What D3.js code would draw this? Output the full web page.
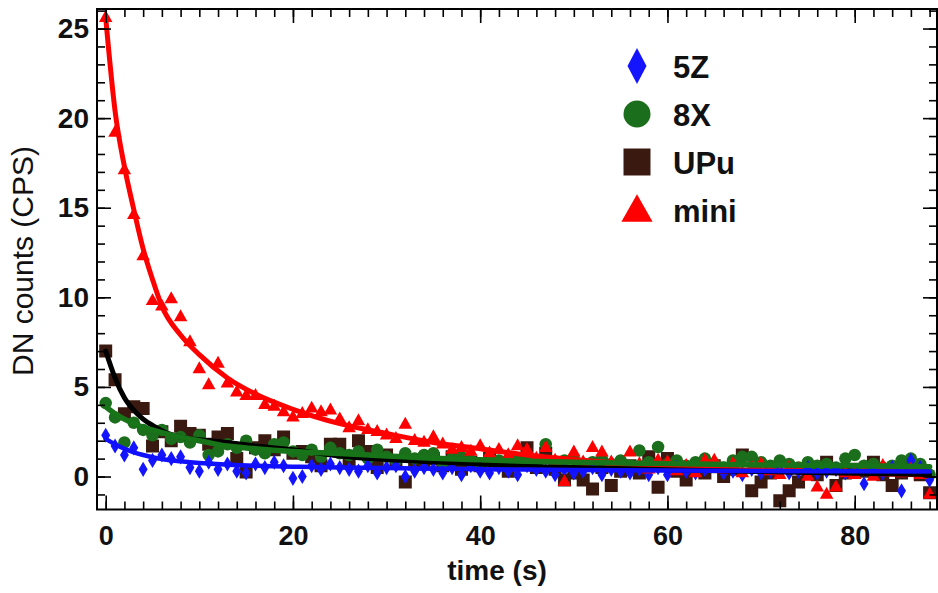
<!DOCTYPE html>
<html><head><meta charset="utf-8">
<script src="https://cdn.jsdelivr.net/npm/d3@7"></script>
<style>html,body{margin:0;padding:0;background:#fff;}svg{display:block;}</style>
</head><body>
<svg id="chart" width="938" height="593"></svg>
<script>
// ---- data ----
const times = d3.range(0, 89); // sample times (s), one count every second
const series5Z = [2.3,1.7,1.2,1.6,0.4,0.9,1.2,1.0,1.1,0.5,0.3,0.8,0.4,0.7,0.3,0.2,0.7,0.5,0.8,0.6,-0.1,0.0,0.6,0.4,0.7,0.5,0.4,0.3,0.6,0.2,0.5,0.6,0.0,0.3,0.5,0.4,0.2,0.5,0.1,0.6,0.3,0.2,0.5,0.3,0.1,0.6,0.4,0.3,0.1,0.4,0.2,0.3,0.5,0.1,0.4,0.3,0.2,0.4,0.1,0.5,0.1,0.5,0.3,0.2,0.4,0.6,0.2,0.3,0.1,0.4,0.2,0.3,0.4,0.2,0.3,0.5,0.2,0.3,0.4,0.2,0.3,-0.4,0.3,0.2,0.5,-0.8,0.9,0.5,-0.2];
const series8X = [4.1,3.3,1.9,3.0,2.6,2.3,2.6,2.1,2.2,1.9,2.3,1.2,1.4,1.8,1.6,2.0,1.5,1.3,1.8,1.9,1.4,1.2,1.5,1.1,1.6,1.3,1.2,1.4,1.0,1.5,1.1,0.9,1.3,1.0,1.2,1.3,0.8,1.0,1.1,0.9,0.7,1.0,0.9,0.6,1.0,0.9,0.7,1.8,0.8,0.9,1.0,0.6,0.8,1.0,0.7,0.9,0.6,1.45,0.8,1.65,0.7,0.9,0.6,0.8,1.0,0.7,0.5,0.9,1.1,1.1,0.8,0.6,0.9,0.7,0.5,0.8,0.6,0.7,0.5,1.0,1.2,0.6,0.7,0.5,0.6,0.9,1.0,0.7,0.1];
const seriesUPu = [7.0,5.4,3.5,3.9,3.8,1.7,2.5,2.0,2.8,2.4,2.3,1.8,2.2,2.4,1.0,0.25,1.6,2.0,1.5,2.2,1.3,1.4,1.1,0.6,1.8,1.8,0.9,2.0,1.4,0.5,1.2,0.8,-0.3,0.7,0.9,1.0,0.6,1.1,0.4,0.8,0.6,1.0,0.7,0.3,0.9,1.6,0.5,1.3,0.4,-0.2,0.2,-0.2,-0.7,0.5,-0.5,0.3,0.6,0.2,1.1,-0.6,1.0,0.3,-0.2,0.5,0.2,0.6,0.0,0.4,1.2,-0.8,-0.3,0.2,-1.35,-0.8,-0.3,0.3,0.1,0.8,-0.5,0.2,0.4,0.3,0.8,0.1,-0.5,0.2,0.4,0.1,-0.9];
const seriesMini = [25.7,19.3,17.2,14.7,12.4,9.9,9.6,10.0,9.0,7.6,6.1,5.2,6.4,5.3,4.8,4.6,4.6,4.1,4.0,3.7,3.4,3.6,3.9,3.7,3.8,3.3,2.8,3.2,2.7,2.6,2.4,2.2,3.0,2.1,2.0,2.3,1.9,1.6,1.7,1.5,1.8,1.4,1.6,1.3,1.8,1.6,1.1,1.7,1.0,-0.2,1.45,0.9,1.7,1.45,0.9,0.6,1.45,0.8,0.5,1.0,0.9,0.4,0.7,0.3,1.0,1.0,0.5,0.8,0.3,0.6,0.8,0.4,0.2,0.6,0.5,0.1,-0.5,-0.9,-0.5,0.3,0.2,0.4,0.1,0.7,0.4,0.3,0.5,0.2,-0.9];
// fitted decay curves, read at these times
const fitTimes = [0,1,2,3,4,5,6,8,10,13,16,20,25,30,35,40,45,50,60,70,80,88];
const fit5Z  = [2.1,1.8,1.55,1.35,1.2,1.08,0.98,0.85,0.75,0.66,0.6,0.55,0.5,0.47,0.44,0.41,0.39,0.37,0.34,0.31,0.29,0.28];
const fit8X  = [3.9,3.5,3.2,2.95,2.75,2.6,2.45,2.2,2.0,1.7,1.55,1.4,1.28,1.15,1.02,0.93,0.85,0.8,0.72,0.65,0.6,0.55];
const fitUPu = [7.0,5.5,4.4,3.7,3.2,2.85,2.55,2.2,2.05,1.9,1.7,1.5,1.15,0.95,0.82,0.7,0.58,0.5,0.38,0.28,0.18,0.12];
const fitMini= [25.6,20.4,17.3,14.9,12.7,11.0,9.5,7.9,6.8,5.5,4.6,3.75,2.95,2.4,1.9,1.55,1.2,0.95,0.55,0.33,0.18,0.08];
const seriesNames = ["5Z","8X","UPu","mini"];
const xMajorTicks = [0,20,40,60,80];
const yMajorTicks = [0,5,10,15,20,25];

// ---- layout ----
const svg = d3.select("#chart");
const L = 97, R = 937, T = 9, B = 509.5;
const x = d3.scaleLinear().domain([-0.929, 88.79]).range([L, R]);
const y = d3.scaleLinear().domain([-1.84, 26.09]).range([B, T]);

const styles = {
  "5Z":  {color:"#1414ff", line:"#1010ff", lw:4.5, shape:"diamond"},
  "8X":  {color:"#1b6e1b", line:"#187418", lw:5.5, shape:"circle"},
  "UPu": {color:"#3a1a10", line:"#000000", lw:5,   shape:"square"},
  "mini":{color:"#ff0000", line:"#ff0000", lw:5,   shape:"triangle"}
};
const dataBy = {"5Z":series5Z,"8X":series8X,"UPu":seriesUPu,"mini":seriesMini};
const fitBy  = {"5Z":fit5Z,"8X":fit8X,"UPu":fitUPu,"mini":fitMini};

function markerPath(shape, s) {
  if (shape === "diamond") { const w=s*0.32, h=s*0.54; return `M0,${-h}L${w},0L0,${h}L${-w},0Z`; }
  if (shape === "square") { const h=s*0.5; return `M${-h},${-h}H${h}V${h}H${-h}Z`; }
  if (shape === "triangle") { const w=s*0.52, h=s*0.46; return `M0,${-h}L${w},${h}L${-w},${h}Z`; }
  const r = s*0.5;
  return `M${r},0A${r},${r} 0 1,1 ${-r},0A${r},${r} 0 1,1 ${r},0Z`;
}

svg.append("defs").append("clipPath").attr("id","plotclip")
  .append("rect").attr("x",L).attr("y",T).attr("width",R-L).attr("height",B-T);

const plot = svg.append("g").attr("clip-path","url(#plotclip)");

// markers
["UPu","8X","5Z","mini"].forEach(name => {
  const st = styles[name];
  const size = {diamond:14, square:13, triangle:13, circle:12.5}[st.shape];
  plot.append("g").selectAll("path").data(dataBy[name].map((v,i)=>[times[i],v]))
    .join("path")
    .attr("transform", d => `translate(${x(d[0])},${y(d[1])})`)
    .attr("d", markerPath(st.shape, size))
    .attr("fill", st.color);
});

// fitted curves
const line = d3.line().x(d=>x(d[0])).y(d=>y(d[1])).curve(d3.curveMonotoneX);
["mini","UPu","8X","5Z"].forEach(name => {
  const st = styles[name];
  plot.append("path").datum(fitBy[name].map((v,i)=>[fitTimes[i],v]))
    .attr("d", line).attr("fill","none").attr("stroke", st.line)
    .attr("stroke-width", st.lw).attr("stroke-linejoin","round").attr("stroke-linecap","round");
});

// axes (ticks inward)
const font = "'Liberation Sans', Arial, Helvetica, sans-serif";
const xMinor = d3.range(0, 89, 2);
const yMinor = d3.range(-1, 27, 1);
function styleAxis(g){ g.select(".domain").remove(); g.selectAll("line").attr("stroke","#000").attr("stroke-width",1.6); }

svg.append("g").attr("transform",`translate(0,${B})`)
  .call(d3.axisBottom(x).tickValues(xMinor).tickSize(-8).tickFormat("")).call(styleAxis);
svg.append("g").attr("transform",`translate(0,${B})`)
  .call(d3.axisBottom(x).tickValues(xMajorTicks).tickSize(-14).tickPadding(16).tickFormat(d3.format("d")))
  .call(styleAxis)
  .call(g=>g.selectAll("text").attr("font-family",font).attr("font-size",27).attr("font-weight","bold").attr("fill","#111"));
svg.append("g").attr("transform",`translate(0,${T})`)
  .call(d3.axisTop(x).tickValues(xMinor).tickSize(-8).tickFormat("")).call(styleAxis);
svg.append("g").attr("transform",`translate(0,${T})`)
  .call(d3.axisTop(x).tickValues(xMajorTicks).tickSize(-14).tickFormat("")).call(styleAxis);

svg.append("g").attr("transform",`translate(${L},0)`)
  .call(d3.axisLeft(y).tickValues(yMinor).tickSize(-8).tickFormat("")).call(styleAxis);
svg.append("g").attr("transform",`translate(${L},0)`)
  .call(d3.axisLeft(y).tickValues(yMajorTicks).tickSize(-14).tickPadding(8).tickFormat(d3.format("d")))
  .call(styleAxis)
  .call(g=>g.selectAll("text").attr("font-family",font).attr("font-size",28).attr("font-weight","bold").attr("fill","#111"));
svg.append("g").attr("transform",`translate(${R},0)`)
  .call(d3.axisRight(y).tickValues(yMinor).tickSize(-8).tickFormat("")).call(styleAxis);
svg.append("g").attr("transform",`translate(${R},0)`)
  .call(d3.axisRight(y).tickValues(yMajorTicks).tickSize(-14).tickFormat("")).call(styleAxis);

// frame
svg.append("rect").attr("x",L).attr("y",T).attr("width",R-L).attr("height",B-T)
  .attr("fill","none").attr("stroke","#000").attr("stroke-width",2);

// axis titles
svg.append("text").attr("x",(L+R)/2 - 20).attr("y",580).attr("text-anchor","middle")
  .attr("font-family",font).attr("font-size",28).attr("font-weight","bold").attr("fill","#111").text("time (s)");
svg.append("text").attr("transform","translate(33,261) rotate(-90)").attr("text-anchor","middle")
  .attr("font-family",font).attr("font-size",30).attr("fill","#111").text("DN counts (CPS)");

// legend
const legend = svg.append("g");
const legendSizes = {circle:27, square:27, triangle:30};
seriesNames.forEach((name,i) => {
  const st = styles[name];
  const cy = 66 + i*48;
  legend.append("path").attr("transform",`translate(637,${st.shape==="triangle"? cy-2 : cy})`)
    .attr("d", st.shape==="diamond" ? `M0,-18L9.5,0L0,18L-9.5,0Z` : markerPath(st.shape, legendSizes[st.shape]))
    .attr("fill", st.color);
  legend.append("text").attr("x",673).attr("y",cy+12).attr("font-family",font).attr("font-size",31)
    .attr("font-weight","bold").attr("fill","#111").text(name);
});
</script>
</body></html>
